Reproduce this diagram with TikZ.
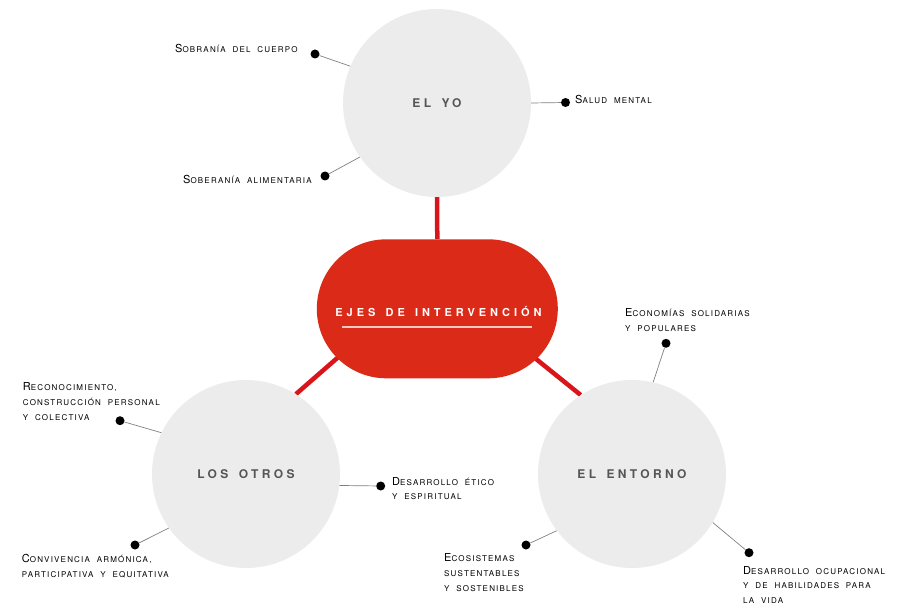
\documentclass[tikz,border=0pt]{standalone}
\usepackage{fontspec}
\setmainfont{TeX Gyre Heros}
\usetikzlibrary{shapes.misc,backgrounds}

% letter-spaced families with widened word spaces
\newfontfamily\labelfont[LetterSpace=15, WordSpace=2.0]{TeX Gyre Heros}
\newfontfamily\axisfont[LetterSpace=28, WordSpace=1.55]{TeX Gyre Heros}
\newfontfamily\titlefont[LetterSpace=36, WordSpace=1.45]{TeX Gyre Heros}

\definecolor{discgray}{HTML}{ECECEC}
\definecolor{axisgray}{HTML}{555555}
\definecolor{pillred}{HTML}{DC2A18}
\definecolor{linkred}{HTML}{D9141A}
\definecolor{leadergray}{HTML}{808080}
\definecolor{rulepink}{HTML}{F4C9C2}

% small-caps look: a larger initial capital followed by smaller capitals
\newcommand\capsz{\fontsize{11}{13}\selectfont}
\newcommand\smsz{\fontsize{8}{13}\selectfont}
\newcommand\initcap[2]{{\capsz #1}#2}
\newcommand\stacked[1]{\vtop{\baselineskip=14.8pt\lineskiplimit=-20pt\lineskip=0pt\relax #1}}

\tikzset{
  disc/.style={circle, fill=discgray, minimum size=188pt, inner sep=0pt,
    font=\axisfont\bfseries\fontsize{12}{14}\selectfont, text=axisgray},
  pill/.style={rounded rectangle, fill=pillred, minimum width=241pt,
    minimum height=139pt, inner sep=0pt},
  title/.style={font=\titlefont\bfseries\fontsize{11}{13}\selectfont,
    text=white, inner sep=0pt, anchor=base},
  leaf/.style={anchor=base west, inner sep=0pt, font=\labelfont\smsz, text=black},
  dot/.style={circle, fill=black, minimum size=9pt, inner sep=0pt},
  leader/.style={draw=leadergray, line width=0.7pt},
  redlink/.style={draw=linkred, line width=4.5pt},
}

\begin{document}
\begin{tikzpicture}[x=1pt, y=-1pt]
\useasboundingbox (0,0) rectangle (899,604);

% the three axes and the central pill
\node[disc] (yo) at (437,103) {EL YO};
\node[disc] (otros) at (246,474) {LOS OTROS};
\node[disc] (entorno) at (632,474) {EL ENTORNO};
\node[pill] (ejes) at (437.3,308.8) {};
\node[title] (ejestxt) at (438.5,316) {EJES DE INTERVENCIÓN};
\draw[rulepink, line width=1.2pt] (342,327) -- (532,327);

% red links, tucked under the shapes
\coordinate (ejesL) at (351,346);
\coordinate (ejesR) at (526.4,351.2);
\begin{scope}[on background layer]
  \draw[redlink] (yo.south) -- (ejes.north);
  \draw[redlink] (otros.58) -- (ejesL);
  \draw[redlink] (entorno.123) -- (ejesR);
\end{scope}

% leaf dots
\node[dot] (dsobc) at (315,54) {};
\node[dot] (dsoba) at (325,176) {};
\node[dot] (dsal) at (565.5,102.5) {};
\node[dot] (drec) at (120,420.7) {};
\node[dot] (dcon) at (135,545) {};
\node[dot] (deti) at (380.7,486) {};
\node[dot] (deco) at (526,545) {};
\node[dot] (decn) at (666,343.3) {};
\node[dot] (docu) at (749,552.7) {};

% leader lines from each disc to its dots
\draw[leader] (yo.157) -- (dsobc);
\draw[leader] (yo.215) -- (dsoba);
\draw[leader] (yo.0) -- (dsal);
\draw[leader] (otros.154) -- (drec);
\draw[leader] (otros.215) -- (dcon);
\draw[leader] (otros.-7) -- (deti);
\draw[leader] (entorno.217) -- (deco);
\draw[leader] (entorno.77) -- (decn);
\draw[leader] (entorno.-31) -- (docu);

% leaf labels
\node[leaf] (lsobc) at (175,52.7) {\initcap{S}{OBRANÍA DEL CUERPO}};
\node[leaf] (lsoba) at (183,183.3) {\initcap{S}{OBERANÍA ALIMENTARIA}};
\node[leaf] (lsal) at (575,104) {\initcap{S}{ALUD MENTAL}};
\node[leaf] (lrec) at (22.7,390.7) {\stacked{\hbox{\initcap{R}{ECONOCIMIENTO,}}\hbox{CONSTRUCCIÓN PERSONAL}\hbox{Y COLECTIVA}}};
\node[leaf] (lcon) at (21.7,562.3) {\stacked{\hbox{\initcap{C}{ONVIVENCIA ARMÓNICA,}}\hbox{PARTICIPATIVA Y EQUITATIVA}}};
\node[leaf] (leti) at (392,485) {\stacked{\hbox{\initcap{D}{ESARROLLO ÉTICO}}\hbox{Y ESPIRITUAL}}};
\node[leaf] (leco) at (444,561.7) {\stacked{\hbox{\initcap{E}{COSISTEMAS}}\hbox{SUSTENTABLES}\hbox{Y SOSTENIBLES}}};
\node[leaf] (lecn) at (625,316.7) {\stacked{\hbox{\initcap{E}{CONOMÍAS SOLIDARIAS}}\hbox{Y POPULARES}}};
\node[leaf] (locu) at (743,574) {\stacked{\hbox{\initcap{D}{ESARROLLO OCUPACIONAL}}\hbox{Y DE HABILIDADES PARA}\hbox{LA VIDA}}};
\end{tikzpicture}
\end{document}
